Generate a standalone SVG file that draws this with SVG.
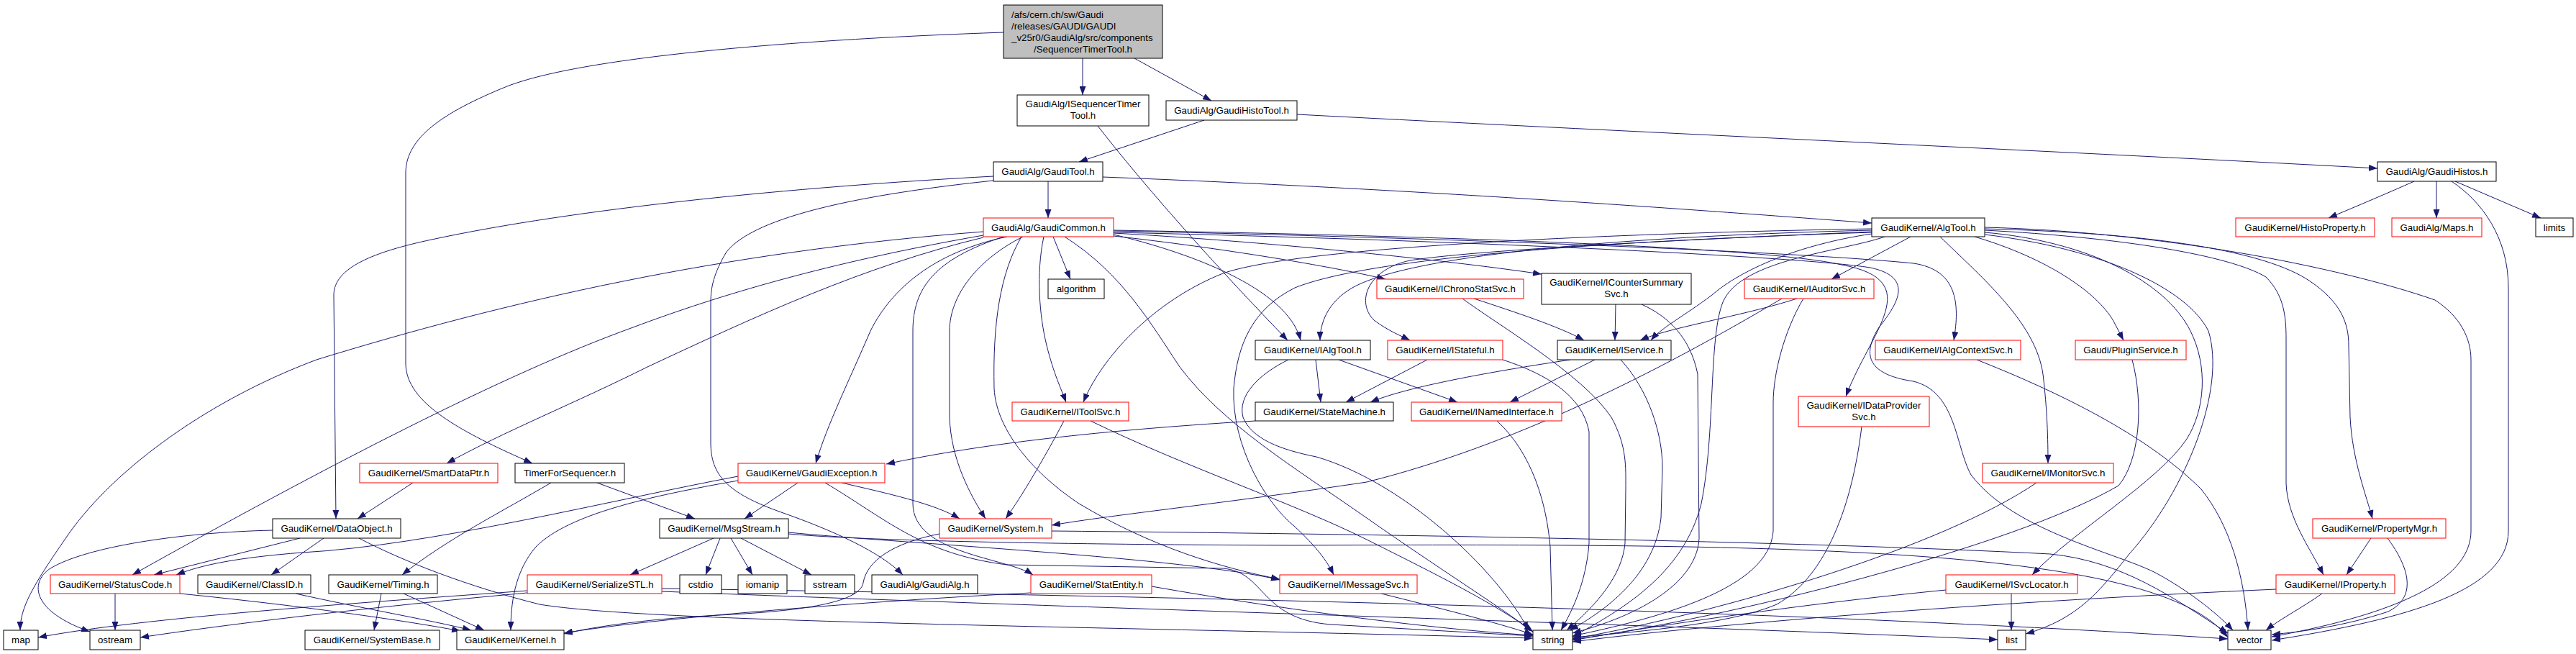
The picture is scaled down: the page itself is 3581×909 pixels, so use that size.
<svg xmlns="http://www.w3.org/2000/svg" width="3581" height="909" viewBox="0 0 3581 909">
<defs>
<marker id="arr" markerUnits="userSpaceOnUse" markerWidth="12" markerHeight="9" refX="12" refY="4.5" orient="auto" viewBox="0 0 12 9"><path d="M0,0 L12,4.5 L0,9 z" fill="#191970"/></marker>
</defs>
<style>
.n rect{fill:#ffffff;stroke:#000000;stroke-width:1}
.r rect{stroke:#ff0000}
.root rect{fill:#bfbfbf}
text{font-family:"Liberation Sans",Arial,Helvetica,sans-serif;font-size:13.3px;fill:#000000;text-anchor:middle}
text.l{text-anchor:start}
#edges path{fill:none;stroke:#191970;stroke-width:1;marker-end:url(#arr)}
</style>
<rect width="3581" height="909" fill="#ffffff"/>
<g id="edges">
<path d="M1505,81 L1505,132"/>
<path d="M1577,81 L1684,140"/>
<path d="M1395,45 C1100,55 800,80 700,122 C620,155 564,190 564,240 L564,505 C564,560 640,600 740,644"/>
<path d="M1526,175 C1600,270 1700,380 1790,473"/>
<path d="M1674,167 L1500,225"/>
<path d="M1803,159 C2300,185 2900,212 3305,234"/>
<path d="M3356,252 C3320,268 3280,285 3237,303"/>
<path d="M3387,252 L3387,303"/>
<path d="M3413,252 L3532,303"/>
<path d="M3408,252 C3450,280 3487,330 3487,400 L3487,738 C3487,820 3350,860 3158,890"/>
<path d="M1457,252 L1457,303"/>
<path d="M1533,246 C2000,264 2400,295 2602,310"/>
<path d="M1381,245 C1100,260 800,290 600,333 C520,350 464,372 464,410 L467,721"/>
<path d="M1381,251 C1200,270 1050,300 1010,350 C992,380 988,400 988,420 L988,615 C988,660 1010,685 1086,712 C1160,738 1225,768 1255,799"/>
<path d="M1464,329 L1488,388"/>
<path d="M1367,322 C1000,350 700,420 440,500 C280,560 150,660 90,750 C45,815 28,845 28,876"/>
<path d="M1367,327 C1150,365 1000,410 880,455 C700,520 450,650 184,799"/>
<path d="M1367,330 C1200,370 1050,440 900,510 C800,560 700,600 621,644"/>
<path d="M1400,329 C1300,350 1240,400 1210,460 C1180,530 1150,590 1134,644"/>
<path d="M1548,328 C1700,345 1850,370 1926,388"/>
<path d="M1548,324 C1750,335 2000,360 2143,381"/>
<path d="M1451,329 C1440,380 1445,440 1455,480 C1465,520 1475,540 1482,559"/>
<path d="M1548,326 C1650,350 1790,400 1808,473"/>
<path d="M1422,329 C1360,360 1320,410 1320,460 L1320,580 C1322,640 1350,690 1370,721"/>
<path d="M1395,329 C1300,360 1269,400 1269,460 L1269,700 C1269,770 1400,775 1436,799"/>
<path d="M1420,329 C1390,380 1380,450 1382,540 C1385,600 1440,660 1500,700 C1600,760 1700,790 1779,805"/>
<path d="M1548,320 C2000,328 2450,343 2560,368 C2680,390 2600,460 2566,551"/>
<path d="M1548,321 C2000,330 2500,350 2660,366 C2720,375 2725,420 2716,473"/>
<path d="M1548,323 C2000,333 2500,356 2600,372 C2660,385 2640,420 2612,455 C2590,490 2592,520 2660,530 C2720,545 2718,620 2740,660 C2800,740 2950,770 3000,798 C3040,820 3080,850 3104,876"/>
<path d="M1480,329 C1560,380 1600,450 1640,510 C1700,590 1800,650 1900,720 C2000,790 2080,840 2131,878"/>
<path d="M2656,329 L2546,388"/>
<path d="M2602,325 C2500,340 2420,375 2380,410 C2340,440 2310,455 2295,473"/>
<path d="M2697,329 C2760,390 2830,450 2840,520 C2846,570 2847,610 2847,644"/>
<path d="M2745,329 C2850,360 2920,410 2940,450 L2952,473"/>
<path d="M2759,323 C2900,335 3010,390 3045,460 C3070,510 3065,570 3040,610 C3000,670 2880,740 2825,799"/>
<path d="M2759,326 C2920,345 3040,400 3070,460 C3095,540 3040,680 2960,770 C2920,820 2890,860 2816,881"/>
<path d="M2759,320 C2950,330 3100,355 3150,385 C3175,410 3178,440 3178,470 L3178,672 C3180,720 3210,760 3230,799"/>
<path d="M2759,318 C3000,324 3150,350 3210,390 C3255,420 3265,450 3265,480 L3267,580 C3270,640 3290,690 3298,721"/>
<path d="M2759,316 C3000,322 3250,370 3385,417 C3420,440 3435,470 3435,500 L3435,738 C3435,800 3350,850 3158,885"/>
<path d="M2602,318 C2200,325 1800,345 1700,380 C1600,420 1530,500 1506,559"/>
<path d="M2602,320 C2200,330 1950,360 1880,400 C1845,420 1835,450 1835,473"/>
<path d="M2602,322 C2300,335 2050,348 1960,362 C1900,375 1885,420 1910,445 C1930,460 1950,468 1960,473"/>
<path d="M2602,323 C2200,336 1900,360 1800,400 C1740,430 1720,480 1715,540 C1712,620 1760,700 1800,732 C1830,760 1845,780 1854,799"/>
<path d="M2620,329 C2560,350 2420,360 2395,420 C2375,470 2385,600 2365,700 C2340,800 2250,850 2186,885"/>
<path d="M2246,423 L2245,473"/>
<path d="M2282,423 C2320,440 2350,470 2360,520 L2362,748 C2360,800 2300,850 2186,880"/>
<path d="M2049,415 C2110,435 2170,455 2202,473"/>
<path d="M2033,415 C2080,450 2200,520 2240,580 C2262,620 2260,650 2260,680 L2259,755 C2255,800 2220,840 2178,876"/>
<path d="M2498,415 C2420,440 2320,455 2280,473"/>
<path d="M2477,415 C2300,520 2100,620 1900,670 C1700,700 1550,715 1462,730"/>
<path d="M2507,415 C2480,460 2465,520 2465,560 L2465,738 C2460,820 2300,860 2186,884"/>
<path d="M2588,593 C2575,700 2540,800 2470,840 C2400,870 2250,880 2186,886"/>
<path d="M2831,671 C2700,760 2400,850 2186,888"/>
<path d="M2964,500 C2980,560 2975,640 2945,675 C2800,760 2400,860 2186,889"/>
<path d="M2796,825 L2796,876"/>
<path d="M2705,820 C2500,840 2300,870 2186,890"/>
<path d="M2748,500 C2900,560 3000,620 3060,680 C3100,730 3120,800 3125,876"/>
<path d="M3296,748 L3262,799"/>
<path d="M3319,748 C3350,790 3360,830 3320,850 C3260,870 3200,878 3158,882"/>
<path d="M3228,825 C3200,845 3170,860 3150,876"/>
<path d="M3164,819 C2800,835 2400,865 2186,892"/>
<path d="M1984,500 L1871,559"/>
<path d="M2089,500 C2150,520 2200,550 2209,600 L2209,755 C2205,810 2185,850 2170,876"/>
<path d="M2183,500 C2050,520 1950,540 1905,559"/>
<path d="M2217,500 L2099,559"/>
<path d="M2253,500 C2290,540 2311,600 2311,650 L2309,720 C2300,800 2230,850 2182,876"/>
<path d="M1829,500 L1836,559"/>
<path d="M1861,500 L2026,559"/>
<path d="M1791,500 C1750,520 1720,550 1728,580 C1740,610 1780,625 1830,635 C1950,670 2080,790 2125,876"/>
<path d="M1745,585 C1500,600 1350,620 1232,645"/>
<path d="M2081,585 C2130,630 2150,700 2155,760 L2158,876"/>
<path d="M1920,825 C2000,845 2080,865 2131,882"/>
<path d="M1479,585 C1450,640 1420,690 1398,721"/>
<path d="M1516,585 C1650,650 1800,700 1900,750 C2000,800 2080,840 2131,878"/>
<path d="M1306,742 C1240,755 1205,780 1200,810 C1195,840 1100,850 1000,855 C900,860 820,872 784,881"/>
<path d="M992,748 L876,799"/>
<path d="M1001,748 L981,799"/>
<path d="M1016,748 L1046,799"/>
<path d="M1030,748 L1128,799"/>
<path d="M1096,740 C1250,755 1650,775 1779,806"/>
<path d="M1096,742 C1200,752 1500,757 1800,758 C2500,755 3000,760 3097,886"/>
<path d="M1462,738 C1900,742 2500,752 2850,770 C2950,780 3020,830 3097,880"/>
<path d="M1601,815 C1800,850 2000,875 2131,883"/>
<path d="M1433,824 C1200,836 900,860 784,880"/>
<path d="M1026,662 C850,695 600,758 420,768 C330,775 280,785 245,799"/>
<path d="M1026,668 C900,690 790,715 745,760 C715,795 710,840 710,876"/>
<path d="M1109,671 L1035,721"/>
<path d="M1170,671 C1230,685 1300,700 1334,721"/>
<path d="M1147,671 C1230,720 1280,770 1400,785 L1700,790 C1760,795 1750,860 1850,868 L2131,884"/>
<path d="M499,748 C560,780 650,815 750,840 C900,865 1500,870 2131,887"/>
<path d="M379,737 C250,740 120,760 70,790 C40,810 45,850 125,878"/>
<path d="M417,748 L214,799"/>
<path d="M450,748 L377,799"/>
<path d="M574,671 L497,721"/>
<path d="M160,825 L160,876"/>
<path d="M250,825 C400,840 550,860 640,877"/>
<path d="M411,825 C500,845 600,862 655,876"/>
<path d="M561,825 L673,876"/>
<path d="M530,825 L520,876"/>
<path d="M766,671 C700,710 620,750 559,799"/>
<path d="M830,671 L966,721"/>
<path d="M733,821 C500,838 200,858 53,886"/>
<path d="M733,824 C500,845 300,870 195,886"/>
<path d="M920,822 C1500,845 2300,868 2777,889"/>
<path d="M920,818 C1600,828 2500,848 3097,888"/>
</g>
<g id="n_root" class="n root"><rect x="1395" y="7" width="221" height="74"/><text class="l" x="1406" y="24.5">/afs/cern.ch/sw/Gaudi</text><text class="l" x="1406" y="40.5">/releases/GAUDI/GAUDI</text><text class="l" x="1406" y="56.5">_v25r0/GaudiAlg/src/components</text><text x="1505.5" y="72.5">/SequencerTimerTool.h</text></g>
<g id="n_isequencertimertool" class="n"><rect x="1414" y="132" width="183" height="43"/><text x="1505.5" y="149">GaudiAlg/ISequencerTimer</text><text x="1505.5" y="165">Tool.h</text></g>
<g id="n_gaudihistotool" class="n"><rect x="1621" y="140" width="182" height="27"/><text x="1712" y="158">GaudiAlg/GaudiHistoTool.h</text></g>
<g id="n_gauditool" class="n"><rect x="1381" y="225" width="152" height="27"/><text x="1457" y="243">GaudiAlg/GaudiTool.h</text></g>
<g id="n_gaudicommon" class="n r"><rect x="1367" y="303" width="181" height="26"/><text x="1457.5" y="320.7">GaudiAlg/GaudiCommon.h</text></g>
<g id="n_algorithm" class="n"><rect x="1457" y="388" width="78" height="27"/><text x="1496" y="406">algorithm</text></g>
<g id="n_ichronostatsvc" class="n r"><rect x="1914" y="388" width="204" height="27"/><text x="2016" y="406">GaudiKernel/IChronoStatSvc.h</text></g>
<g id="n_icountersummarysvc" class="n"><rect x="2143" y="380" width="208" height="43"/><text x="2247" y="397">GaudiKernel/ICounterSummary</text><text x="2247" y="413">Svc.h</text></g>
<g id="n_algtool" class="n"><rect x="2602" y="303" width="157" height="26"/><text x="2680.5" y="320.7">GaudiKernel/AlgTool.h</text></g>
<g id="n_iauditorsvc" class="n r"><rect x="2425" y="388" width="180" height="27"/><text x="2515" y="406">GaudiKernel/IAuditorSvc.h</text></g>
<g id="n_gaudihistos" class="n"><rect x="3305" y="225" width="165" height="27"/><text x="3387.5" y="243">GaudiAlg/GaudiHistos.h</text></g>
<g id="n_histoproperty" class="n r"><rect x="3108" y="303" width="193" height="26"/><text x="3204.5" y="320.7">GaudiKernel/HistoProperty.h</text></g>
<g id="n_maps" class="n r"><rect x="3325" y="303" width="125" height="26"/><text x="3387.5" y="320.7">GaudiAlg/Maps.h</text></g>
<g id="n_limits" class="n"><rect x="3525" y="303" width="52" height="26"/><text x="3551" y="320.7">limits</text></g>
<g id="n_ialgtool" class="n"><rect x="1745" y="473" width="160" height="27"/><text x="1825" y="491">GaudiKernel/IAlgTool.h</text></g>
<g id="n_istateful" class="n r"><rect x="1929" y="473" width="160" height="27"/><text x="2009" y="491">GaudiKernel/IStateful.h</text></g>
<g id="n_iservice" class="n"><rect x="2165" y="473" width="158" height="27"/><text x="2244" y="491">GaudiKernel/IService.h</text></g>
<g id="n_ialgcontextsvc" class="n r"><rect x="2607" y="473" width="202" height="27"/><text x="2708" y="491">GaudiKernel/IAlgContextSvc.h</text></g>
<g id="n_pluginservice" class="n r"><rect x="2885" y="473" width="154" height="27"/><text x="2962" y="491">Gaudi/PluginService.h</text></g>
<g id="n_itoolsvc" class="n r"><rect x="1407" y="559" width="162" height="26"/><text x="1488" y="576.7">GaudiKernel/IToolSvc.h</text></g>
<g id="n_statemachine" class="n"><rect x="1745" y="559" width="192" height="26"/><text x="1841" y="576.7">GaudiKernel/StateMachine.h</text></g>
<g id="n_inamedinterface" class="n r"><rect x="1962" y="559" width="209" height="26"/><text x="2066.5" y="576.7">GaudiKernel/INamedInterface.h</text></g>
<g id="n_idataprovidersvc" class="n r"><rect x="2500" y="551" width="182" height="42"/><text x="2591" y="568">GaudiKernel/IDataProvider</text><text x="2591" y="584">Svc.h</text></g>
<g id="n_smartdataptr" class="n r"><rect x="500" y="644" width="192" height="27"/><text x="596" y="662">GaudiKernel/SmartDataPtr.h</text></g>
<g id="n_timerforsequencer" class="n"><rect x="716" y="644" width="152" height="27"/><text x="792" y="662">TimerForSequencer.h</text></g>
<g id="n_gaudiexception" class="n r"><rect x="1026" y="644" width="204" height="27"/><text x="1128" y="662">GaudiKernel/GaudiException.h</text></g>
<g id="n_imonitorsvc" class="n r"><rect x="2756" y="644" width="182" height="27"/><text x="2847" y="662">GaudiKernel/IMonitorSvc.h</text></g>
<g id="n_dataobject" class="n"><rect x="379" y="721" width="178" height="27"/><text x="468" y="739">GaudiKernel/DataObject.h</text></g>
<g id="n_msgstream" class="n"><rect x="917" y="721" width="179" height="27"/><text x="1006.5" y="739">GaudiKernel/MsgStream.h</text></g>
<g id="n_system" class="n r"><rect x="1306" y="721" width="156" height="27"/><text x="1384" y="739">GaudiKernel/System.h</text></g>
<g id="n_propertymgr" class="n r"><rect x="3215" y="721" width="185" height="27"/><text x="3307.5" y="739">GaudiKernel/PropertyMgr.h</text></g>
<g id="n_statuscode" class="n r"><rect x="70" y="799" width="180" height="26"/><text x="160" y="816.7">GaudiKernel/StatusCode.h</text></g>
<g id="n_classid" class="n"><rect x="275" y="799" width="157" height="26"/><text x="353.5" y="816.7">GaudiKernel/ClassID.h</text></g>
<g id="n_timing" class="n"><rect x="457" y="799" width="151" height="26"/><text x="532.5" y="816.7">GaudiKernel/Timing.h</text></g>
<g id="n_serializestl" class="n r"><rect x="733" y="799" width="187" height="26"/><text x="826.5" y="816.7">GaudiKernel/SerializeSTL.h</text></g>
<g id="n_cstdio" class="n"><rect x="945" y="799" width="58" height="26"/><text x="974" y="816.7">cstdio</text></g>
<g id="n_iomanip" class="n"><rect x="1026" y="799" width="68" height="26"/><text x="1060" y="816.7">iomanip</text></g>
<g id="n_sstream" class="n"><rect x="1119" y="799" width="69" height="26"/><text x="1153.5" y="816.7">sstream</text></g>
<g id="n_gaudialg" class="n"><rect x="1212" y="799" width="147" height="26"/><text x="1285.5" y="816.7">GaudiAlg/GaudiAlg.h</text></g>
<g id="n_statentity" class="n r"><rect x="1433" y="799" width="168" height="26"/><text x="1517" y="816.7">GaudiKernel/StatEntity.h</text></g>
<g id="n_imessagesvc" class="n r"><rect x="1779" y="799" width="191" height="26"/><text x="1874.5" y="816.7">GaudiKernel/IMessageSvc.h</text></g>
<g id="n_isvclocator" class="n r"><rect x="2705" y="799" width="183" height="26"/><text x="2796.5" y="816.7">GaudiKernel/ISvcLocator.h</text></g>
<g id="n_iproperty" class="n r"><rect x="3164" y="799" width="165" height="26"/><text x="3246.5" y="816.7">GaudiKernel/IProperty.h</text></g>
<g id="n_map" class="n"><rect x="5" y="876" width="48" height="27"/><text x="29" y="894">map</text></g>
<g id="n_ostream" class="n"><rect x="125" y="876" width="70" height="27"/><text x="160" y="894">ostream</text></g>
<g id="n_systembase" class="n"><rect x="424" y="876" width="187" height="27"/><text x="517.5" y="894">GaudiKernel/SystemBase.h</text></g>
<g id="n_kernel" class="n"><rect x="635" y="876" width="149" height="27"/><text x="709.5" y="894">GaudiKernel/Kernel.h</text></g>
<g id="n_string" class="n"><rect x="2131" y="876" width="55" height="27"/><text x="2158.5" y="894">string</text></g>
<g id="n_list" class="n"><rect x="2777" y="876" width="39" height="27"/><text x="2796.5" y="894">list</text></g>
<g id="n_vector" class="n"><rect x="3097" y="876" width="60" height="27"/><text x="3127" y="894">vector</text></g>
</svg>
